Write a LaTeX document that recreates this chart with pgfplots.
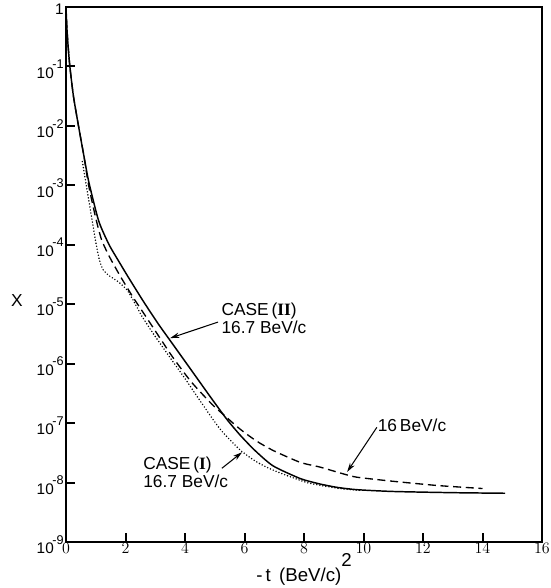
\documentclass[border=0pt]{standalone}
\usepackage{fontspec}
\setmainfont{Liberation Sans}
\newfontfamily\romanI{Liberation Serif}
\usepackage{pgfplots}
\pgfplotsset{compat=1.18}
\usetikzlibrary{arrows.meta}
\newcommand{\ex}[1]{10\kern-1pt\raisebox{0.62em}{\fontsize{9.5}{10}\selectfont #1}}
\newcommand{\RI}{{\romanI\bfseries I}}
\begin{document}
\begin{tikzpicture}
\begin{axis}[
  scale only axis, width=357pt, height=401.25pt,
  ymode=log, log basis y=10,
  xmin=0, xmax=16, ymin=1e-9, ymax=1,
  clip=false,
  axis on top,
  xtick={0,2,4,6,8,10,12,14,16},
  ytick={1e-9,1e-8,1e-7,1e-6,1e-5,1e-4,1e-3,1e-2,1e-1,1},
  yticklabels={\ex{-9},\ex{-8},\ex{-7},\ex{-6},\ex{-5},\ex{-4},\ex{-3},\ex{-2},\ex{-1},1},
  minor tick num=0,
  xtick pos=left, ytick pos=left,
  xtick align=inside, ytick align=inside,
  major tick length=6.5pt,
  axis line style={line width=1.4pt},
  tick style={draw=black, line width=1.5pt},
  tick label style={font=\fontsize{11.5}{12}\selectfont},
  xticklabel style={inner sep=1pt},
  yticklabel style={inner sep=1.5pt, yshift=-2pt},
  xlabel={-\,t\, (BeV/c)\raisebox{0.8em}{2}},
  every axis x label/.style={at={(rel axis cs:0.5,0)}, anchor=base, yshift=-29.25pt, font=\fontsize{14}{15}\selectfont},
  ylabel={X},
  every axis y label/.style={at={(rel axis cs:0,0.452)}, anchor=center, xshift=-36.75pt, font=\fontsize{13}{14}\selectfont},
]
% CASE (II) 16.7 BeV/c (solid)
\addplot[black, line width=1.1pt, smooth, tension=0.4] coordinates {
(0,1) (0.03,0.447) (0.07,0.224) (0.13,0.1) (0.25,3.16e-2) (0.42,1e-2)
(0.6,3.16e-3) (0.77,1.12e-3) (1.1,2.51e-4) (1.45,1e-4) (1.8,5.01e-5)
(2.1,2.82e-5) (2.6,1.12e-5) (3.1,4.68e-6) (3.6,2.09e-6) (4.1,9.33e-7)
(4.84,2.82e-7) (5.4,1.17e-7) (5.85,6.31e-8) (6.35,3.47e-8) (6.96,1.91e-8)
(7.87,1.17e-8) (8.5,9.55e-9) (9.1,8.32e-9) (9.78,7.59e-9) (11,7.08e-9)
(13,6.76e-9) (14.76,6.61e-9)
};
% 16 BeV/c (dashed)
\addplot[black, line width=1.0pt, dash pattern=on 6pt off 3.5pt, smooth, tension=0.4] coordinates {
(0,1) (0.03,0.447) (0.07,0.224) (0.13,0.1) (0.25,3.16e-2) (0.42,1e-2)
(0.6,3.16e-3) (0.76,1e-3) (1.0,2.82e-4) (1.2,1.20e-4) (1.48,6.03e-5)
(1.85,2.82e-5) (2.25,1.32e-5) (2.7,6.03e-6) (3.2,2.51e-6) (3.6,1.26e-6)
(4.2,5.01e-7) (4.9,2.09e-7) (5.3,1.38e-7) (5.85,7.94e-8) (6.4,5.01e-8)
(6.96,3.47e-8) (7.87,2.19e-8) (8.54,1.82e-8) (9.3,1.41e-8) (9.78,1.23e-8)
(11,1.05e-8) (12.5,8.91e-9) (14.0,7.94e-9)
};
% CASE (I) 16.7 BeV/c (dotted)
\addplot[black, line width=1.2pt, line cap=round, dash pattern=on 0pt off 2.3pt, smooth, tension=0.4] coordinates {
(0.55,2.51e-3) (0.68,1e-3) (0.85,3.16e-4) (1.0,1.12e-4) (1.12,5.62e-5)
(1.25,3.80e-5) (1.45,3.02e-5) (1.75,2.40e-5) (2.05,1.74e-5) (2.3,1.07e-5)
(2.55,6.31e-6) (2.9,3.39e-6) (3.5,1.26e-6) (4.0,5.62e-7) (4.5,2.40e-7)
(5.18,7.94e-8) (5.85,3.55e-8) (6.4,2.24e-8) (6.96,1.62e-8) (8.1,1e-8)
(9.2,7.94e-9) (9.9,7.41e-9)
};
% annotations
\node[anchor=west, align=left, font=\fontsize{13}{13.5}\selectfont, inner sep=0pt]
  at (axis cs:5.22,5.75e-6) {CASE\,(\RI\RI)\\16.7 BeV/c};
\draw[line width=0.8pt, -{Stealth[length=7pt,width=4pt]}] (axis cs:5.11,5.01e-6) -- (axis cs:3.5,2.69e-6);
\node[anchor=center, font=\fontsize{13}{13.5}\selectfont, inner sep=0pt]
  at (axis cs:11.63,9.12e-8) {16\,BeV/c};
\draw[line width=0.8pt, -{Stealth[length=7pt,width=4pt]}] (axis cs:10.45,8.51e-8) -- (axis cs:9.45,1.51e-8);
\node[anchor=west, align=left, font=\fontsize{13}{13.5}\selectfont, inner sep=0pt]
  at (axis cs:2.59,1.46e-8) {CASE\,(\RI)\\16.7 BeV/c};
\draw[line width=0.8pt, -{Stealth[length=7pt,width=4pt]}] (axis cs:5.24,1.74e-8) -- (axis cs:5.92,3.24e-8);
\coordinate (bl) at (rel axis cs:0,0);
\coordinate (tr) at (rel axis cs:1,1);
\end{axis}
\pgfresetboundingbox
\path[use as bounding box] ([xshift=-49.5pt,yshift=-34.5pt]bl) rectangle ([xshift=6pt,yshift=5.25pt]tr);
\end{tikzpicture}
\end{document}
